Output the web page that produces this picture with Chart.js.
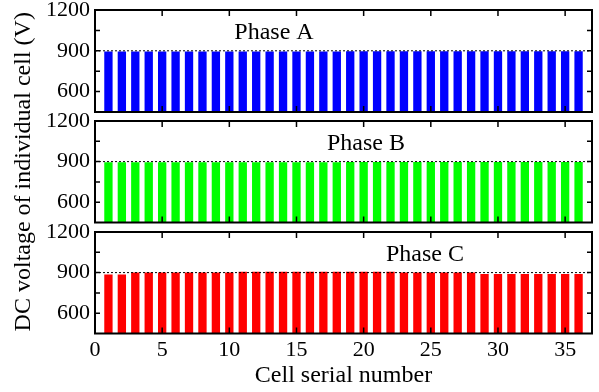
<!DOCTYPE html>
<html>
<head>
<meta charset="utf-8">
<script src="https://cdn.jsdelivr.net/npm/chart.js@4.4.1/dist/chart.umd.min.js"></script>
<style>
  html, body { margin: 0; padding: 0; background: #fff; }
  #wrap { position: relative; width: 599px; height: 392px; }
  #wrap canvas { position: absolute; left: 0; top: 0; }
</style>
</head>
<body>
<div id="wrap">
  <canvas id="panelA" width="599" height="392"></canvas>
  <canvas id="panelB" width="599" height="392"></canvas>
  <canvas id="panelC" width="599" height="392"></canvas>
</div>
<script>
// Cell index along the x axis
const cells = [1, 2, 3, 4, 5, 6, 7, 8, 9, 10, 11, 12, 13, 14, 15, 16, 17, 18,
               19, 20, 21, 22, 23, 24, 25, 26, 27, 28, 29, 30, 31, 32, 33, 34, 35, 36];

// DC capacitor voltage of each cell (V)
const phaseA = [895, 895, 895, 895, 895, 895, 895, 895, 895, 895, 895, 895,
                895, 895, 895, 895, 895, 895, 896, 896, 896, 896, 896, 896,
                896, 896, 896, 896, 896, 896, 896, 896, 896, 896, 896, 896];
const phaseB = [896, 896, 896, 896, 896, 896, 896, 896, 896, 896, 896, 896,
                896, 896, 896, 896, 896, 896, 897, 897, 897, 897, 897, 897,
                897, 897, 897, 897, 897, 897, 897, 897, 897, 897, 897, 897];
const phaseC = [886, 886, 901, 901, 901, 901, 901, 901, 901, 901, 907, 907,
                907, 907, 907, 907, 907, 907, 907, 907, 907, 907, 901, 901,
                901, 901, 901, 901, 889, 889, 889, 889, 889, 889, 889, 889];

const phaseNames = ['Phase A', 'Phase B', 'Phase C'];
const labelledVoltages = [600, 900, 1200];
const ratedVoltage = 900;

const SERIF = "'Liberation Serif', 'Times New Roman', serif";

// Frame, inward ticks, rated-voltage reference line and phase caption
const panelDecor = {
  id: 'panelDecor',
  afterDatasetsDraw(chart, args, opts) {
    const { ctx, chartArea: a, scales: { x, y } } = chart;
    ctx.save();

    // dotted reference line at the rated voltage
    const yr = y.getPixelForValue(opts.ref);
    ctx.strokeStyle = '#000';
    ctx.lineWidth = 1;
    ctx.setLineDash([2, 2]);
    ctx.beginPath();
    ctx.moveTo(a.left, yr);
    ctx.lineTo(a.right, yr);
    ctx.stroke();
    ctx.setLineDash([]);

    // inward tick marks on all four sides
    ctx.lineWidth = 1.5;
    ctx.beginPath();
    x.ticks.forEach(t => {
      const px = x.getPixelForValue(t.value);
      if (px <= a.left + 1 || px >= a.right - 1) return;
      ctx.moveTo(px, a.bottom); ctx.lineTo(px, a.bottom - 6);
      ctx.moveTo(px, a.top); ctx.lineTo(px, a.top + 6);
    });
    y.ticks.forEach(t => {
      const py = y.getPixelForValue(t.value);
      if (py <= a.top + 1 || py >= a.bottom - 1) return;
      ctx.moveTo(a.left, py); ctx.lineTo(a.left + 5, py);
      ctx.moveTo(a.right, py); ctx.lineTo(a.right - 5, py);
    });
    ctx.stroke();

    // axes box
    ctx.lineWidth = 2;
    ctx.strokeRect(a.left, a.top, a.right - a.left, a.bottom - a.top);

    // phase caption
    ctx.fillStyle = '#000';
    ctx.font = '24px ' + SERIF;
    ctx.textAlign = 'center';
    ctx.textBaseline = 'alphabetic';
    ctx.fillText(opts.label, opts.labelX, a.top + 28.5);
    ctx.restore();
  }
};

function makePanel(id, values, color, name, cfg) {
  return new Chart(document.getElementById(id), {
    type: 'bar',
    data: {
      datasets: [{
        data: cells.map((c, i) => ({ x: c, y: values[i] })),
        backgroundColor: color,
        borderWidth: 0,
        barPercentage: 0.62,
        categoryPercentage: 1
      }]
    },
    options: {
      responsive: false,
      animation: false,
      devicePixelRatio: 1,
      layout: { padding: { top: cfg.top, bottom: cfg.bottom, left: 0, right: 7 } },
      plugins: {
        legend: { display: false },
        tooltip: { enabled: false },
        panelDecor: { ref: ratedVoltage, label: name, labelX: cfg.labelX }
      },
      scales: {
        x: {
          type: 'linear',
          min: 0,
          max: 37,
          offset: false,
          grid: { display: false, drawTicks: false },
          border: { display: false },
          ticks: {
            stepSize: 5,
            includeBounds: false,
            display: cfg.showX,
            autoSkip: false,
            maxRotation: 0,
            padding: 4,
            color: '#000',
            font: { family: SERIF, size: 22 }
          },
          title: {
            display: cfg.showX,
            text: 'Cell serial number',
            color: '#000',
            font: { family: SERIF, size: 24, lineHeight: 1.2 },
            padding: { top: 0, bottom: 2 }
          },
          afterFit(s) {
            s.height = cfg.xHeight;
            s.paddingLeft = 0;
            s.paddingRight = 0;
          }
        },
        y: {
          min: 450,
          max: 1200,
          grid: { display: false, drawTicks: false },
          border: { display: false },
          ticks: {
            stepSize: 150,
            autoSkip: false,
            padding: 5,
            color: '#000',
            font: { family: SERIF, size: 22 },
            callback: v => labelledVoltages.includes(v) ? String(v) : ''
          },
          title: {
            display: cfg.showY,
            text: 'DC voltage of individual cell (V)',
            color: '#000',
            font: { family: SERIF, size: 24, lineHeight: 1.2 },
            padding: { top: 9.6, bottom: 0 }
          },
          afterFit(s) {
            s.width = 95;
            s.paddingTop = 0;
            s.paddingBottom = 0;
          }
        }
      }
    },
    plugins: [panelDecor]
  });
}

makePanel('panelA', phaseA, '#0000ff', phaseNames[0],
  { top: 10, bottom: 280, xHeight: 0, showX: false, showY: false, labelX: 274 });
makePanel('panelB', phaseB, '#00ff00', phaseNames[1],
  { top: 121, bottom: 169.5, xHeight: 0, showX: false, showY: true, labelX: 366 });
makePanel('panelC', phaseC, '#ff0000', phaseNames[2],
  { top: 232, bottom: 0, xHeight: 58.5, showX: true, showY: false, labelX: 425 });
</script>
</body>
</html>
